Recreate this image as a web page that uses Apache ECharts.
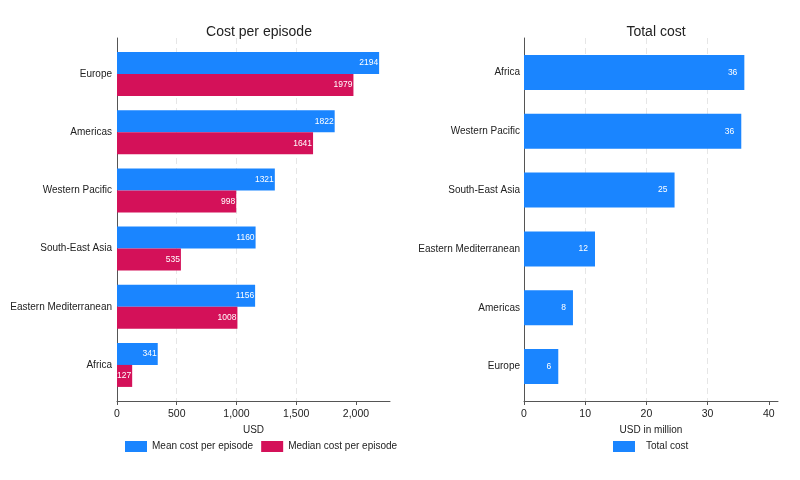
<!DOCTYPE html>
<html>
<head>
<meta charset="utf-8">
<script src="https://cdn.jsdelivr.net/npm/echarts@6/dist/echarts.min.js"></script>
<style>
  html, body { margin: 0; padding: 0; background: #fff; }
  #chart { width: 800px; height: 480px; }
</style>
</head>
<body>
<div id="chart"></div>
<script>
// data
var regionsLeft = ["Europe", "Americas", "Western Pacific", "South-East Asia", "Eastern Mediterranean", "Africa"];
var meanCost = [2194, 1822, 1321, 1160, 1156, 341];
var medianCost = [1979, 1641, 998, 535, 1008, 127];

var regionsRight = ["Africa", "Western Pacific", "South-East Asia", "Eastern Mediterranean", "Americas", "Europe"];
var totalCost = [36.0, 35.5, 24.6, 11.6, 8.0, 5.6];

var leftTicks = [0, 500, 1000, 1500, 2000];
var rightTicks = [0, 10, 20, 30, 40];

var FONT = "Liberation Sans, Arial, sans-serif";
var BLUE = "#1a85ff";
var RED = "#d41159";
var AXIS = "#555";
var TEXT = "#222";

var myChart = echarts.init(document.getElementById("chart"), null, { renderer: "canvas" });

// outer grids carry the axis lines, ticks and grid lines; inner grids carry the bars
function outerX(gridIndex, max, ticks, name, fmt) {
  return {
    gridIndex: gridIndex,
    type: "value",
    min: 0,
    max: max,
    name: name,
    nameLocation: "middle",
    nameGap: 18,
    nameTextStyle: { fontFamily: FONT, fontSize: 10, color: TEXT },
    axisLine: { show: true, lineStyle: { color: AXIS, width: 1 } },
    axisTick: { show: true, length: 4, customValues: ticks, lineStyle: { color: AXIS } },
    axisLabel: { customValues: ticks, fontFamily: FONT, fontSize: 10.5, color: TEXT, margin: 8, formatter: fmt },
    splitLine: { show: true, showMinLine: false, showMaxLine: false, lineStyle: { color: "#e6e6e6", type: [6, 4] } },
  };
}

function innerX(gridIndex, max) {
  return {
    gridIndex: gridIndex,
    type: "value",
    min: 0,
    max: max,
    show: false,
    splitLine: { show: false },
  };
}

function frameY(gridIndex) {
  return {
    gridIndex: gridIndex, type: "value", min: 0, max: 1,
    axisLine: { show: true, lineStyle: { color: AXIS, width: 1 } },
    axisTick: { show: false }, axisLabel: { show: false }, splitLine: { show: false },
  };
}

function catY(gridIndex, cats, margin) {
  return {
    gridIndex: gridIndex, type: "category", inverse: true, data: cats,
    axisLine: { show: false }, axisTick: { show: false },
    axisLabel: { fontFamily: FONT, fontSize: 10, color: TEXT, margin: margin },
  };
}

var barLabel = { show: true, position: "insideRight", distance: 1, color: "#fff", fontFamily: FONT, fontSize: 8.5 };

var option = {
  animation: false,
  backgroundColor: "#fff",
  textStyle: { fontFamily: FONT },
  title: [
    { text: "Cost per episode", left: 254, top: 20, textAlign: "center",
      textStyle: { fontFamily: FONT, fontSize: 14, fontWeight: "normal", color: TEXT } },
    { text: "Total cost", left: 651, top: 20, textAlign: "center",
      textStyle: { fontFamily: FONT, fontSize: 14, fontWeight: "normal", color: TEXT } },
  ],
  legend: [
    {
      data: ["Mean cost per episode", "Median cost per episode"],
      left: 125, top: 441, padding: 0,
      icon: "rect", itemWidth: 22, itemHeight: 11, itemGap: 8,
      textStyle: { fontFamily: FONT, fontSize: 10, color: TEXT },
    },
    {
      data: ["Total cost"],
      left: 613, top: 441, padding: 0,
      icon: "rect", itemWidth: 22, itemHeight: 11,
      textStyle: { fontFamily: FONT, fontSize: 10, color: TEXT, padding: [0, 0, 0, 6] },
    },
  ],
  grid: [
    { left: 117, right: 410, top: 38, bottom: 79, outerBoundsMode: "none" },
    { left: 117, right: 410, top: 45, bottom: 86, outerBoundsMode: "none" },
    { left: 524, right: 22, top: 38, bottom: 79, outerBoundsMode: "none" },
    { left: 524, right: 22, top: 43, bottom: 84, outerBoundsMode: "none" },
  ],
  xAxis: [
    outerX(0, 2285, leftTicks, "USD", function (v) { return v.toLocaleString("en-US"); }),
    innerX(1, 2285),
    outerX(2, 41.5, rightTicks, "USD in million"),
    innerX(3, 41.5),
  ],
  yAxis: [
    frameY(0),
    catY(1, regionsLeft, 5),
    frameY(2),
    catY(3, regionsRight, 4),
  ],
  series: [
    {
      name: "Mean cost per episode",
      type: "bar",
      xAxisIndex: 1, yAxisIndex: 1,
      data: meanCost,
      barWidth: 22, barGap: "0%",
      itemStyle: { color: BLUE },
      label: barLabel,
    },
    {
      name: "Median cost per episode",
      type: "bar",
      xAxisIndex: 1, yAxisIndex: 1,
      data: medianCost,
      barWidth: 22, barGap: "0%",
      itemStyle: { color: RED },
      label: barLabel,
    },
    {
      name: "Total cost",
      type: "bar",
      xAxisIndex: 3, yAxisIndex: 3,
      data: totalCost,
      barWidth: 35,
      itemStyle: { color: BLUE },
      label: Object.assign({}, barLabel, { distance: 7,
        formatter: function (p) { return Math.round(p.value); } }),
    },
  ],
};

myChart.setOption(option);
</script>
</body>
</html>
